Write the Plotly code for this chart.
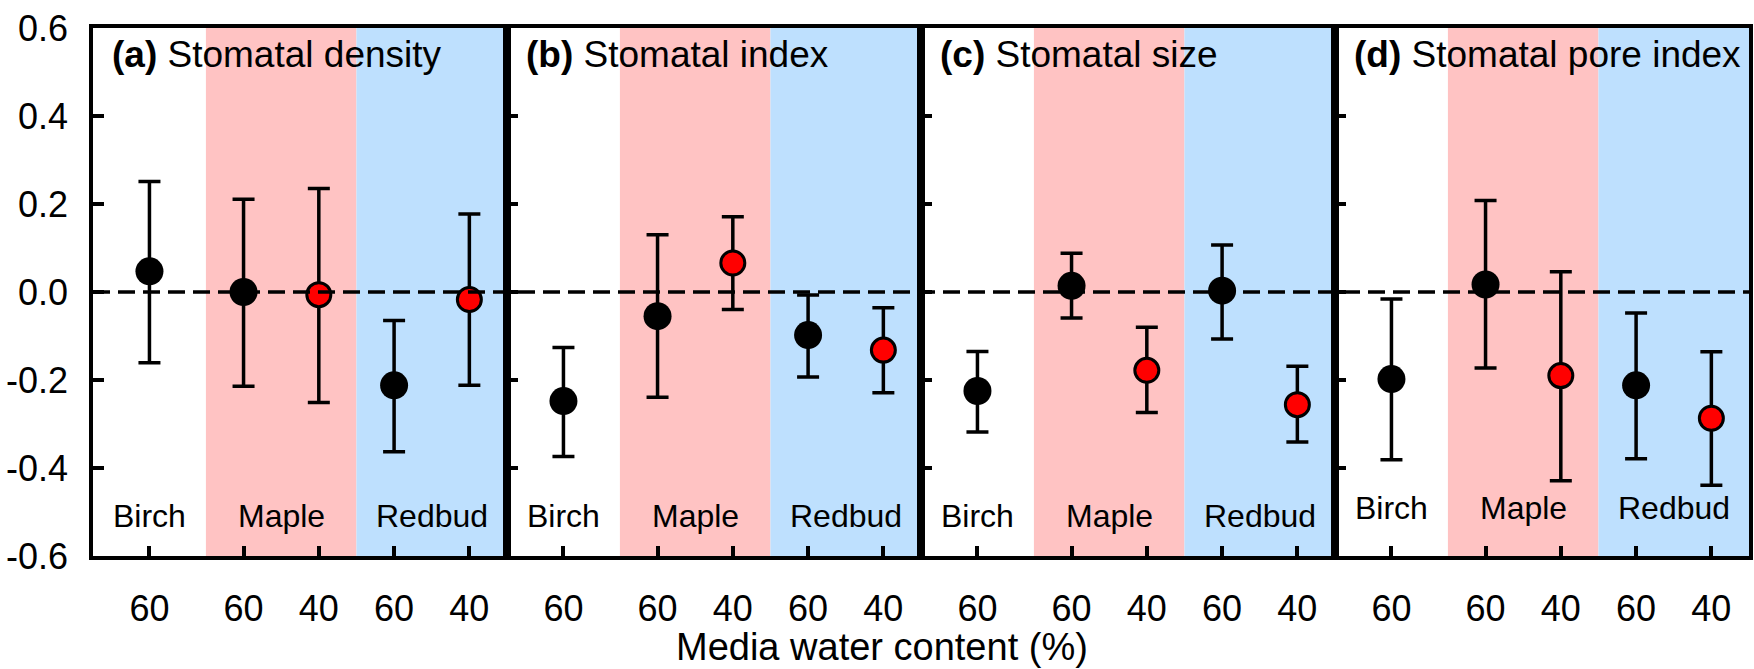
import plotly.graph_objects as go

# ---------------- data ----------------
x_pos = [1, 2.25, 3.25, 4.25, 5.25]
x_ticktext = ["60", "60", "40", "60", "40"]
point_colors = ["black", "black", "red", "black", "red"]
species = ["Birch", "Maple", "Redbud"]
species_x = [1, 2.75, 4.75]

panel_titles = ["<b>(a)</b> Stomatal density", "<b>(b)</b> Stomatal index",
                "<b>(c)</b> Stomatal size", "<b>(d)</b> Stomatal pore index"]

density_mean = [0.047, 0.000, -0.006, -0.212, -0.017]
density_up = [0.251, 0.211, 0.235, -0.065, 0.177]
density_lo = [-0.161, -0.214, -0.251, -0.363, -0.212]

index_mean = [-0.248, -0.055, 0.066, -0.098, -0.132]
index_up = [-0.126, 0.130, 0.171, -0.007, -0.036]
index_lo = [-0.374, -0.239, -0.040, -0.193, -0.229]

size_mean = [-0.225, 0.014, -0.178, 0.003, -0.256]
size_up = [-0.135, 0.088, -0.080, 0.107, -0.169]
size_lo = [-0.318, -0.059, -0.274, -0.107, -0.341]

pore_mean = [-0.198, 0.017, -0.190, -0.212, -0.287]
pore_up = [-0.016, 0.208, 0.046, -0.048, -0.136]
pore_lo = [-0.381, -0.173, -0.429, -0.379, -0.439]

means = [density_mean, index_mean, size_mean, pore_mean]
uppers = [density_up, index_up, size_up, pore_up]
lowers = [density_lo, index_lo, size_lo, pore_lo]
species_label_y = [-0.51, -0.51, -0.51, -0.49]

y_ticks = [-0.6, -0.4, -0.2, 0.0, 0.2, 0.4, 0.6]
y_ticktext = ["-0.6", "-0.4", "-0.2", "0.0", "0.2", "0.4", "0.6"]

PINK = "#FFC3C3"
BLUE = "#BEE0FE"
FONT = "Liberation Sans, Arial, sans-serif"

fig = go.Figure()
shapes = []
annotations = []

for i in range(4):
    ax = "" if i == 0 else str(i + 1)
    xref, yref = "x" + ax, "y" + ax
    m, up, lo = means[i], uppers[i], lowers[i]
    for j in range(len(x_pos)):
        red = point_colors[j] == "red"
        fig.add_trace(go.Scatter(
            x=[x_pos[j]], y=[m[j]], mode="markers",
            xaxis=xref, yaxis=yref, showlegend=False,
            marker=dict(size=24 if red else 28, color=point_colors[j],
                        line=dict(color="black", width=3 if red else 0)),
            error_y=dict(type="data", symmetric=False,
                         array=[up[j] - m[j]], arrayminus=[m[j] - lo[j]],
                         color="black", thickness=3.5, width=11),
        ))
    # background bands
    shapes.append(dict(type="rect", xref=xref, yref=yref + " domain",
                       x0=1.75, x1=3.75, y0=0, y1=1, fillcolor=PINK,
                       line=dict(width=0), layer="below"))
    shapes.append(dict(type="rect", xref=xref, yref=yref + " domain",
                       x0=3.75, x1=5.75, y0=0, y1=1, fillcolor=BLUE,
                       line=dict(width=0), layer="below"))
    # panel title
    annotations.append(dict(text=panel_titles[i], xref=xref + " domain",
                            yref=yref + " domain", x=0, y=0.95, xshift=17,
                            xanchor="left", yanchor="middle", showarrow=False,
                            font=dict(size=37, color="black", family=FONT)))
    for k, sp in enumerate(species):
        annotations.append(dict(text=sp, xref=xref, yref=yref,
                                x=species_x[k], y=species_label_y[i],
                                xanchor="center", yanchor="middle",
                                showarrow=False,
                                font=dict(size=32, color="black", family=FONT)))

# zero reference dashed line across all panels
shapes.append(dict(type="line", xref="paper", yref="y", x0=0, x1=1, y0=0, y1=0,
                   line=dict(color="black", width=3.5, dash="17px,8px"),
                   layer="above"))

annotations.append(dict(text="Media water content (%)", xref="paper",
                        yref="paper", x=0.4765, y=-0.172, xanchor="center",
                        yanchor="middle", showarrow=False,
                        font=dict(size=38, color="black", family=FONT)))

layout = dict(
    width=1754, height=669,
    margin=dict(l=93, r=1, t=28, b=113),
    paper_bgcolor="white", plot_bgcolor="white",
    font=dict(family=FONT, color="black", size=35),
    shapes=shapes, annotations=annotations, showlegend=False,
)
for i in range(4):
    ax = "" if i == 0 else str(i + 1)
    layout["xaxis" + ax] = dict(
        domain=[i * 0.25, (i + 1) * 0.25], range=[0.25, 5.75],
        tickvals=x_pos, ticktext=x_ticktext, ticks="inside", ticklen=10,
        tickwidth=3.5, tickcolor="black", showline=True, linewidth=3.5,
        linecolor="black", mirror=True, showgrid=False, zeroline=False,
        tickfont=dict(size=36, family=FONT, color="black"),
        ticklabelstandoff=18, anchor="y" + ax,
    )
    layout["yaxis" + ax] = dict(
        range=[-0.6, 0.6], tickvals=y_ticks, ticktext=y_ticktext,
        showticklabels=(i == 0), ticks="inside", ticklen=11, tickwidth=3.5,
        tickcolor="black", showline=True, linewidth=3.5, linecolor="black",
        mirror=True, showgrid=False, zeroline=False,
        tickfont=dict(size=36, family=FONT, color="black"),
        ticklabelstandoff=14, anchor="x" + ax,
    )
fig.update_layout(**layout)
fig.write_html("out.html")
